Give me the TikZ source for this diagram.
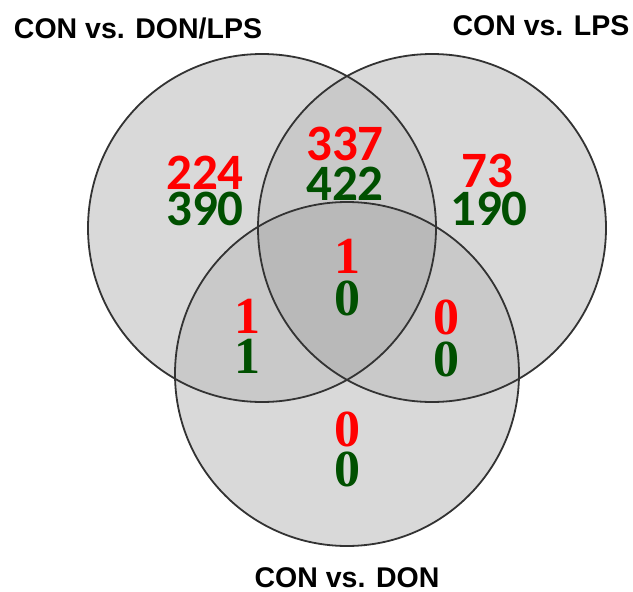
\documentclass[tikz,border=0pt]{standalone}
\usepackage{fontspec}
\newfontfamily\labfont{Liberation Sans}
\newfontfamily\numsans{Carlito}
\newfontfamily\numserif{Liberation Serif}
\definecolor{numred}{RGB}{255,0,0}
\definecolor{numgreen}{RGB}{0,80,0}
\definecolor{onefill}{RGB}{217,217,217}
\definecolor{twofill}{RGB}{201,201,201}
\definecolor{threefill}{RGB}{185,185,185}
\tikzset{
  setlabel/.style={anchor=base, inner sep=0pt, text height=21pt, text depth=0pt, font=\labfont\bfseries\fontsize{28.5}{30}\selectfont},
  bignum/.style={anchor=base, inner sep=0pt, text height=33pt, text depth=0pt, font=\numsans\bfseries\fontsize{51}{51}\selectfont},
  smallnum/.style={anchor=base, inner sep=0pt, text height=36pt, text depth=0pt, font=\numserif\bfseries\fontsize{52}{52}\selectfont},
  up/.style={text=numred},
  down/.style={text=numgreen},
  ring/.style={draw=black!80, line width=1.8pt}
}
\begin{document}
\begin{tikzpicture}[x=1pt,y=-1pt]
\useasboundingbox (0,0) rectangle (633,592);
% fills
\fill[onefill] (262,228) circle (174);
\fill[onefill] (432,228) circle (174);
\fill[onefill] (347,374) circle (172);
\begin{scope}
  \clip (262,228) circle (174);
  \fill[twofill] (432,228) circle (174);
  \fill[twofill] (347,374) circle (172);
\end{scope}
\begin{scope}
  \clip (432,228) circle (174);
  \fill[twofill] (347,374) circle (172);
\end{scope}
\begin{scope}
  \clip (262,228) circle (174);
  \clip (432,228) circle (174);
  \fill[threefill] (347,374) circle (172);
\end{scope}
% outlines
\draw[ring] (262,228) circle (174);
\draw[ring] (432,228) circle (174);
\draw[ring] (347,374) circle (172);
% set labels
\node[setlabel] (lA) at (138,38) {CON vs. DON/LPS};
\node[setlabel] (lB) at (541,35) {CON vs. LPS};
\node[setlabel] (lC) at (347,587) {CON vs. DON};
% numbers
\node[bignum,up]   (a1) at (205,189) {224};
\node[bignum,down] (a2) at (205,225) {390};
\node[bignum,up]   (ab1) at (345,160) {337};
\node[bignum,down] (ab2) at (345,200) {422};
\node[bignum,up]   (b1) at (487,187) {73};
\node[bignum,down] (b2) at (489,225) {190};
\node[smallnum,up]   (abc1) at (347,273) {1};
\node[smallnum,down] (abc2) at (347,315) {0};
\node[smallnum,up]   (ac1) at (247,333) {1};
\node[smallnum,down] (ac2) at (247,373) {1};
\node[smallnum,up]   (bc1) at (446,334) {0};
\node[smallnum,down] (bc2) at (446,376) {0};
\node[smallnum,up]   (c1) at (347,446) {0};
\node[smallnum,down] (c2) at (347,486) {0};
\end{tikzpicture}
\end{document}
